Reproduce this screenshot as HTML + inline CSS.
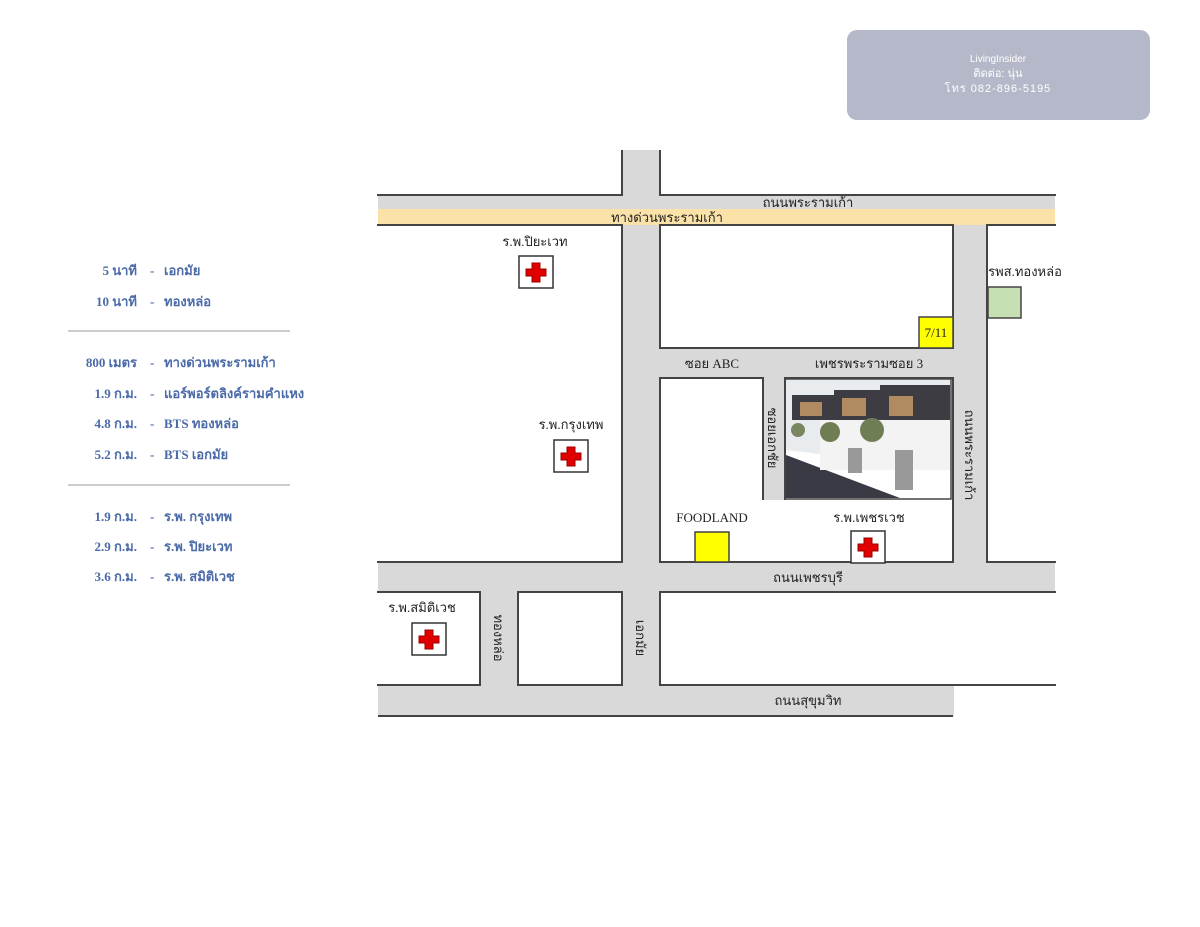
<!DOCTYPE html>
<html><head><meta charset="utf-8"><style>
html,body{margin:0;padding:0;background:#fff;width:1200px;height:927px;overflow:hidden}
svg{display:block}
.t{font-family:"Liberation Serif",serif;font-size:13px;fill:#222}
.l{font-family:"Liberation Serif",serif;font-size:13px;font-weight:bold;fill:#4a6aa8}
</style></head><body>
<svg width="1200" height="927" viewBox="0 0 1200 927">
<defs>
<g id="hosp"><rect x="0" y="0" width="34" height="32" fill="#fff" stroke="#333" stroke-width="1.5"/>
<path d="M13 7h8v6h6v7h-6v6h-8v-6h-6v-7h6z" fill="#e00000" stroke="#900" stroke-width="1"/></g>
</defs>
<!-- road base -->
<rect x="378" y="150" width="677" height="566" fill="#d9d9d9"/>
<rect x="378" y="209" width="677" height="16" fill="#fbe2a8"/>
<g fill="#fff" stroke="#444" stroke-width="2">
<rect x="300" y="100" width="322" height="95"/>
<rect x="660" y="100" width="600" height="95"/>
<rect x="300" y="225" width="322" height="337"/>
<rect x="660" y="225" width="293" height="123"/>
<rect x="987" y="225" width="300" height="337"/>
<rect x="660" y="378" width="293" height="184"/>
<rect x="300" y="592" width="180" height="93"/>
<rect x="518" y="592" width="104" height="93"/>
<rect x="660" y="592" width="600" height="93"/>
</g>
<rect x="764" y="377" width="20" height="123" fill="#d9d9d9"/>
<line x1="763" y1="378" x2="763" y2="500" stroke="#444" stroke-width="2"/>
<line x1="785" y1="378" x2="785" y2="500" stroke="#444" stroke-width="2"/>
<line x1="378" y1="716" x2="953" y2="716" stroke="#444" stroke-width="2"/>
<!-- covers -->
<g fill="#fff">
<rect x="0" y="0" width="377" height="927"/>
<rect x="1056" y="0" width="144" height="927"/>
<rect x="0" y="0" width="1200" height="150"/>
<rect x="0" y="717" width="1200" height="210"/>
<rect x="954" y="686" width="246" height="241"/>
</g>
<!-- image -->
<rect x="786" y="380" width="164" height="118" fill="#e9ecef"/>
<polygon points="786,450 950,470 950,498 786,498" fill="#fff"/>
<polygon points="786,455 900,498 786,498" fill="#3a3a44"/>
<rect x="880" y="385" width="70" height="48" fill="#3c3c42"/>
<rect x="834" y="390" width="48" height="35" fill="#3c3c42"/>
<rect x="792" y="395" width="44" height="25" fill="#3c3c42"/>
<rect x="842" y="398" width="24" height="18" fill="#b08a60"/><rect x="889" y="396" width="24" height="20" fill="#b08a60"/><rect x="800" y="402" width="22" height="14" fill="#b08a60"/>
<rect x="820" y="420" width="130" height="50" fill="#f3f3f3"/>
<rect x="895" y="450" width="18" height="40" fill="#999"/><rect x="848" y="448" width="14" height="25" fill="#999"/>
<circle cx="830" cy="432" r="10" fill="#6f7d55"/><circle cx="872" cy="430" r="12" fill="#6f7d55"/><circle cx="798" cy="430" r="7" fill="#7a8660"/>
<rect x="785" y="379" width="166" height="120" fill="none" stroke="#444" stroke-width="1.5"/>
<!-- boxes -->
<rect x="919" y="317" width="34" height="31" fill="#ffff00" stroke="#444" stroke-width="1.5"/>
<text x="936" y="337" class="t" text-anchor="middle" font-size="12">7/11</text>
<rect x="988" y="287" width="33" height="31" fill="#c6e0b4" stroke="#444" stroke-width="1.5"/>
<rect x="695" y="532" width="34" height="30" fill="#ffff00" stroke="#444" stroke-width="1.5"/>
<use href="#hosp" x="519" y="256"/>
<use href="#hosp" x="554" y="440"/>
<use href="#hosp" x="851" y="531"/>
<use href="#hosp" x="412" y="623"/>
<!-- labels -->
<text x="808" y="207" class="t" text-anchor="middle">ถนนพระรามเก้า</text>
<text x="667" y="222" class="t" text-anchor="middle">ทางด่วนพระรามเก้า</text>
<text x="535" y="246" class="t" text-anchor="middle">ร.พ.ปิยะเวท</text>
<text x="1025" y="276" class="t" text-anchor="middle">รพส.ทองหล่อ</text>
<text x="712" y="368" class="t" text-anchor="middle">ซอย ABC</text>
<text x="869" y="368" class="t" text-anchor="middle">เพชรพระรามซอย 3</text>
<text x="571" y="429" class="t" text-anchor="middle">ร.พ.กรุงเทพ</text>
<text x="712" y="522" class="t" text-anchor="middle">FOODLAND</text>
<text x="869" y="522" class="t" text-anchor="middle">ร.พ.เพชรเวช</text>
<text x="808" y="582" class="t" text-anchor="middle">ถนนเพชรบุรี</text>
<text x="808" y="705" class="t" text-anchor="middle">ถนนสุขุมวิท</text>
<text x="422" y="612" class="t" text-anchor="middle">ร.พ.สมิติเวช</text>
<text class="t" text-anchor="middle" transform="translate(768,438) rotate(90)">ซอยเอกชัย</text>
<text class="t" text-anchor="middle" transform="translate(965,455) rotate(90)">ถนนพระรามเก้า</text>
<text class="t" text-anchor="middle" transform="translate(494,638) rotate(90)">ทองหล่อ</text>
<text class="t" text-anchor="middle" transform="translate(636,638) rotate(90)">เอกมัย</text>
<!-- left list -->
<g class="l">
<text x="137" y="275" text-anchor="end" class="l">5 นาที</text><text x="150" y="275" class="l">-</text><text x="164" y="275" class="l">เอกมัย</text>
<text x="137" y="306" text-anchor="end" class="l">10 นาที</text><text x="150" y="306" class="l">-</text><text x="164" y="306" class="l">ทองหล่อ</text>
<text x="137" y="367" text-anchor="end" class="l">800 เมตร</text><text x="150" y="367" class="l">-</text><text x="164" y="367" class="l">ทางด่วนพระรามเก้า</text>
<text x="137" y="398" text-anchor="end" class="l">1.9 ก.ม.</text><text x="150" y="398" class="l">-</text><text x="164" y="398" class="l">แอร์พอร์ตลิงค์รามคำแหง</text>
<text x="137" y="428" text-anchor="end" class="l">4.8 ก.ม.</text><text x="150" y="428" class="l">-</text><text x="164" y="428" class="l">BTS ทองหล่อ</text>
<text x="137" y="459" text-anchor="end" class="l">5.2 ก.ม.</text><text x="150" y="459" class="l">-</text><text x="164" y="459" class="l">BTS เอกมัย</text>
<text x="137" y="521" text-anchor="end" class="l">1.9 ก.ม.</text><text x="150" y="521" class="l">-</text><text x="164" y="521" class="l">ร.พ. กรุงเทพ</text>
<text x="137" y="551" text-anchor="end" class="l">2.9 ก.ม.</text><text x="150" y="551" class="l">-</text><text x="164" y="551" class="l">ร.พ. ปิยะเวท</text>
<text x="137" y="581" text-anchor="end" class="l">3.6 ก.ม.</text><text x="150" y="581" class="l">-</text><text x="164" y="581" class="l">ร.พ. สมิติเวช</text>
</g>
<line x1="68" y1="331" x2="290" y2="331" stroke="#999" stroke-width="1"/>
<line x1="68" y1="485" x2="290" y2="485" stroke="#999" stroke-width="1"/>
<!-- watermark -->
<rect x="847" y="30" width="303" height="90" rx="10" fill="#b5b8c9"/>
<g font-family="Liberation Sans, sans-serif" fill="#fff" text-anchor="middle">
<text x="998" y="62" font-size="10">LivingInsider</text>
<text x="998" y="77" font-size="11">ติดต่อ: นุ่น</text>
<text x="998" y="92" font-size="11" letter-spacing="1">โทร 082-896-5195</text>
</g>
</svg>
</body></html>
